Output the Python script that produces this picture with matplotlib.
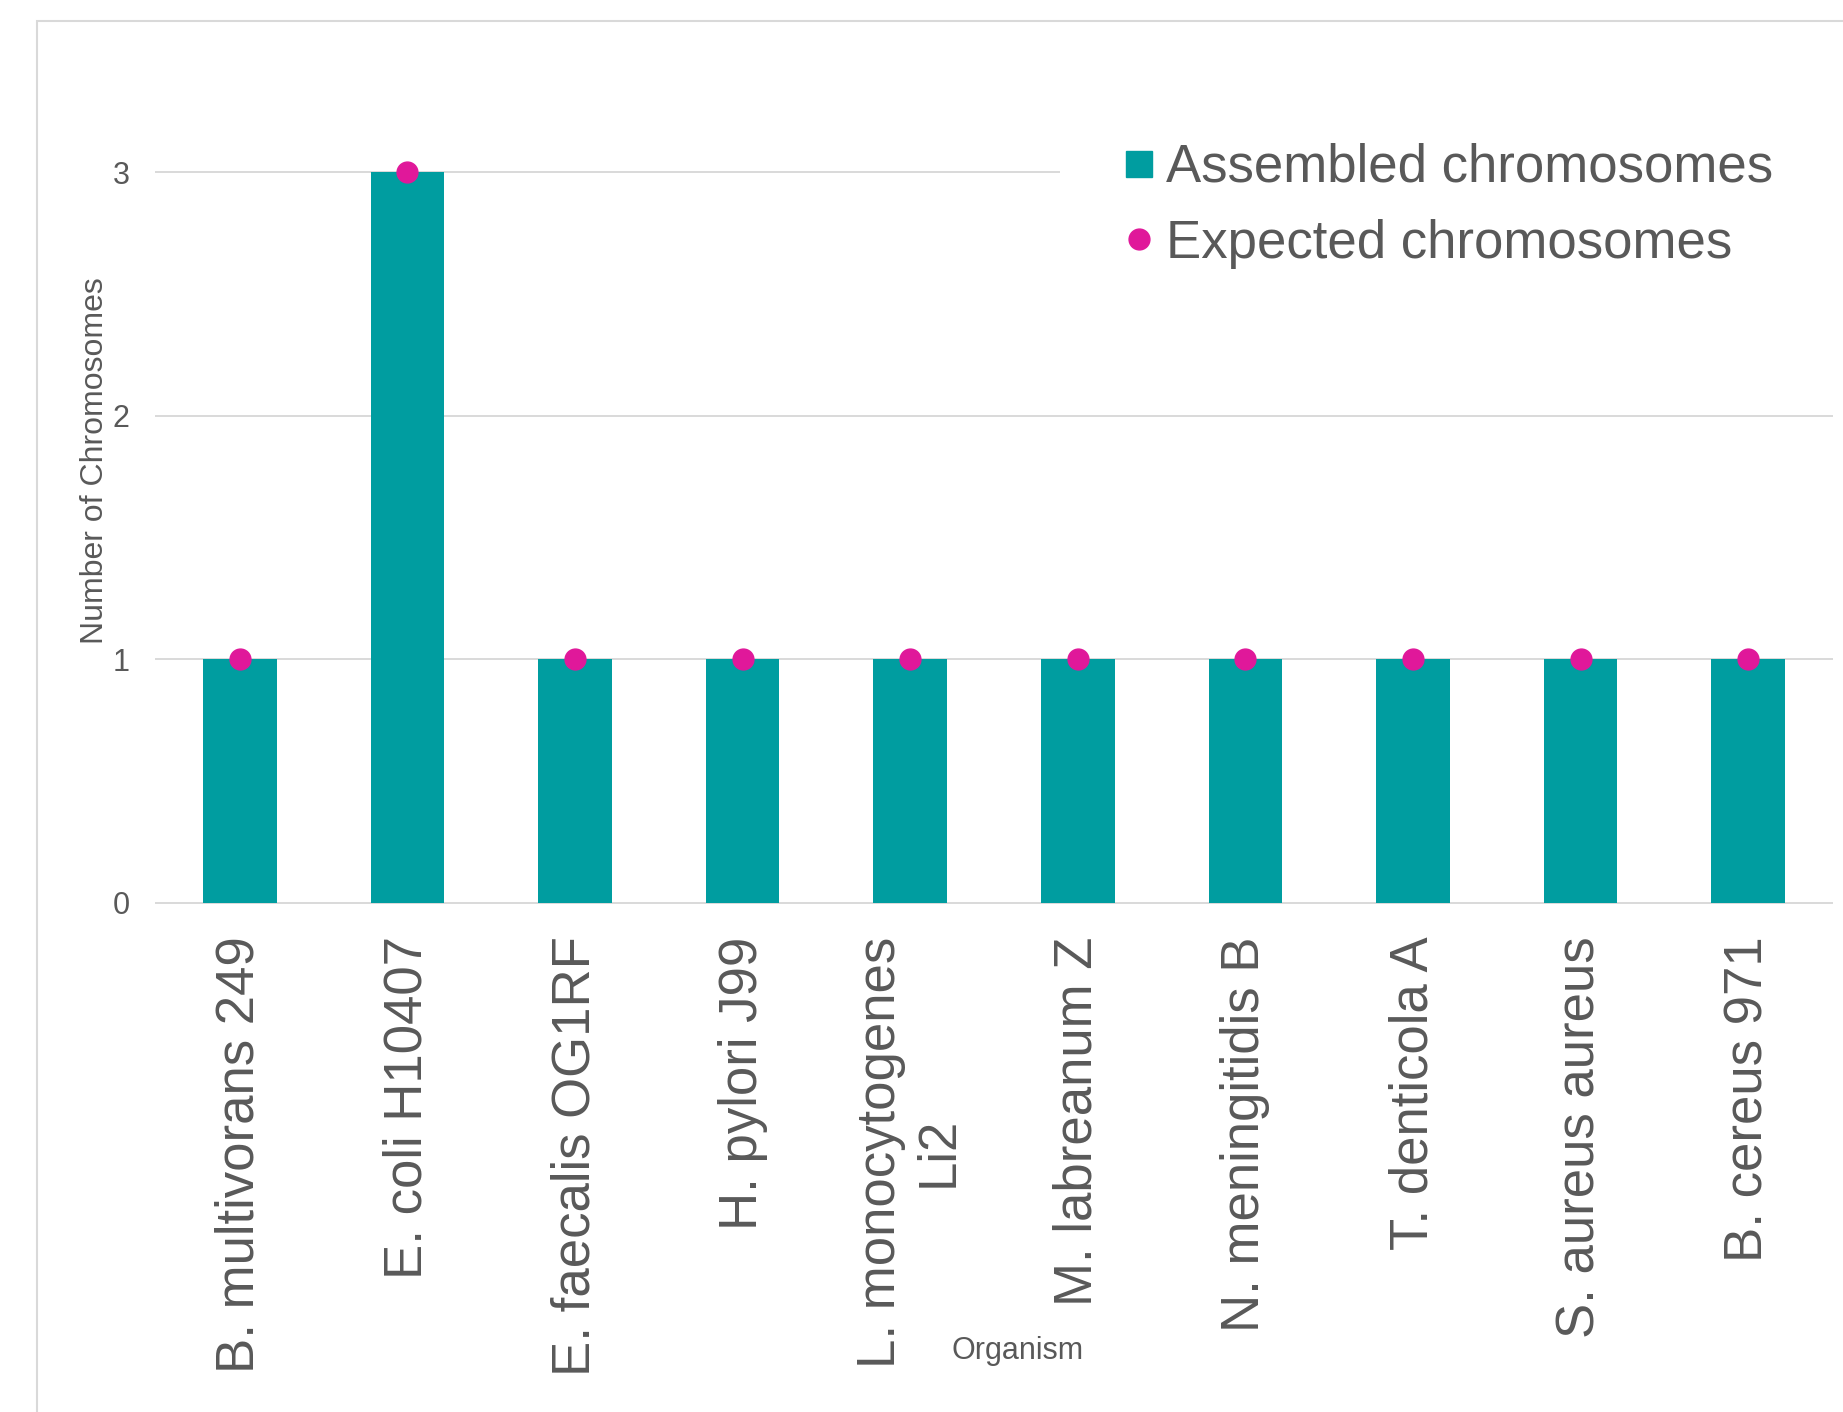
import matplotlib
matplotlib.use("Agg")
import matplotlib.pyplot as plt
from matplotlib.lines import Line2D
from matplotlib.patches import Rectangle

# Chromosome counts per organism
organisms = [
    "B. multivorans 249",
    "E. coli H10407",
    "E. faecalis OG1RF",
    "H. pylori J99",
    "L. monocytogenes\nLi2",
    "M. labreanum Z",
    "N. meningitidis B",
    "T. denticola A",
    "S. aureus aureus",
    "B. cereus 971",
]
assembled = [1, 3, 1, 1, 1, 1, 1, 1, 1, 1]
expected = [1, 3, 1, 1, 1, 1, 1, 1, 1, 1]
y_ticks = [0, 1, 2, 3]

TEAL = "#009DA0"
MAGENTA = "#E0189A"
TEXT = "#595959"
GRID = "#D9D9D9"

plt.rcParams["font.family"] = ["Liberation Sans", "DejaVu Sans"]

W, H = 1843, 1412
fig = plt.figure(figsize=(W / 100, H / 100), dpi=100)

# light chart-area border (left and top edges visible)
fig.patches.append(Rectangle((37 / W, -0.2), 1.5, (1 - 21 / H) + 0.2,
                             transform=fig.transFigure, fill=False,
                             edgecolor=GRID, linewidth=1.5))

ax = fig.add_axes([156 / W, 1 - 903 / H, (1832 - 156) / W, (903 - 172) / H])

x = list(range(len(organisms)))
ax.bar(x, assembled, width=0.44, color=TEAL, zorder=2,
       label="Assembled chromosomes")
ax.plot(x, expected, linestyle="none", marker="o", markersize=15,
        color=MAGENTA, zorder=3, clip_on=False,
        label="Expected chromosomes")

ax.set_xlim(-0.5, len(organisms) - 0.5)
ax.set_ylim(0, 3)
ax.set_yticks(y_ticks)
ax.set_yticklabels([str(v) for v in y_ticks])
ax.set_xticks(x)
ax.set_xticklabels(organisms, rotation=90, ha="center", va="top",
                   multialignment="center")

for s in ax.spines.values():
    s.set_visible(False)
ax.grid(axis="y", color=GRID, linewidth=1.4, zorder=0)
ax.set_axisbelow(True)
for gl in ax.get_ygridlines():
    gl.set_clip_on(False)

ax.tick_params(axis="y", length=0, pad=19, labelsize=22, labelcolor=TEXT)
ax.tick_params(axis="x", length=0, pad=24, labelsize=38, labelcolor=TEXT)

fig.text(95 / W, 1 - 461 / H, "Number of Chromosomes", rotation=90,
         ha="center", va="center", fontsize=23, color=TEXT)
fig.text(1018 / W, 1 - 1351 / H, "Organism", ha="center", va="center",
         fontsize=22, color=TEXT)

handles = [
    Line2D([], [], linestyle="none", marker="s", markersize=18.5,
           color=TEAL),
    Line2D([], [], linestyle="none", marker="o", markersize=15,
           color=MAGENTA),
]
leg = ax.legend(handles, ["Assembled chromosomes", "Expected chromosomes"],
                loc="upper left", bbox_to_anchor=(1060 / W, 1 - 77 / H),
                bbox_transform=fig.transFigure, fontsize=38,
                frameon=True, facecolor="white", edgecolor="none",
                framealpha=1, fancybox=False, borderpad=1.25,
                handlelength=0.5, handletextpad=0.25, labelspacing=0.49,
                borderaxespad=0)
for t in leg.get_texts():
    t.set_color(TEXT)

fig.savefig("out.png", dpi=100, facecolor="white")
